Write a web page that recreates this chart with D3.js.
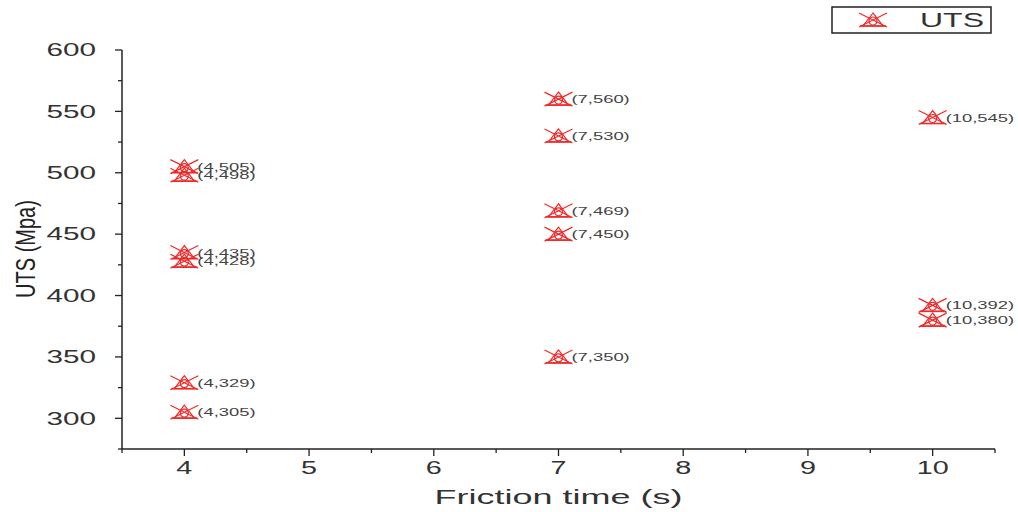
<!DOCTYPE html>
<html>
<head>
<meta charset="utf-8">
<script src="https://cdn.jsdelivr.net/npm/d3@7"></script>
<style>
  html, body { margin: 0; padding: 0; background: #fff; }
  svg { display: block; font-family: "Liberation Sans", Arial, sans-serif; }
</style>
</head>
<body>
<svg id="chart" width="1018" height="512"></svg>
<script>
// Friction time (s) and ultimate tensile strength (MPa) per weld
const frictionTime = [4, 4, 4, 4, 4, 4, 7, 7, 7, 7, 7, 10, 10, 10];
const uts = [505, 498, 435, 428, 329, 305, 560, 530, 469, 450, 350, 545, 392, 380];
const xTicks = [4, 5, 6, 7, 8, 9, 10];
const yTicks = [300, 350, 400, 450, 500, 550, 600];
const seriesName = "UTS";

const svg = d3.select("#chart");
const plotLeft = 122, plotRight = 995, plotTop = 50, plotBottom = 449;

const x = d3.scaleLinear().domain([3.5, 10.5]).range([plotLeft, plotRight]);
const y = d3.scaleLinear().domain([600, 275]).range([plotTop, plotBottom]);

const red = "#ee2a2a";
const axisColor = "#222";

// Text drawn with a wide horizontal stretch, as the figure's fonts are
function wideText(parent, px, py, str, size, sx, anchor, fill) {
  return parent.append("text")
    .attr("transform", `translate(${px},${py}) scale(${sx},1)`)
    .attr("text-anchor", anchor).attr("dy", "0.35em")
    .attr("font-size", size).attr("fill", fill).text(str);
}

// X axis
const xAxis = svg.append("g");
xAxis.append("line").attr("x1", plotLeft).attr("x2", plotRight).attr("y1", plotBottom).attr("y2", plotBottom)
  .attr("stroke", axisColor).attr("stroke-width", 1.5);
d3.range(3.5, 10.51, 0.5).forEach(v => {
  const major = Number.isInteger(v);
  xAxis.append("line").attr("x1", x(v)).attr("x2", x(v)).attr("y1", plotBottom).attr("y2", plotBottom + (major ? 7 : 4))
    .attr("stroke", axisColor).attr("stroke-width", 1.3);
});
xTicks.forEach(d => wideText(xAxis, x(d), plotBottom + 19, d, 18, 1.6, "middle", "#333"));

// Y axis
const yAxis = svg.append("g");
yAxis.append("line").attr("x1", plotLeft).attr("x2", plotLeft).attr("y1", plotTop).attr("y2", plotBottom)
  .attr("stroke", axisColor).attr("stroke-width", 1.5);
d3.range(275, 600.1, 25).forEach(v => {
  const major = v % 50 === 0;
  yAxis.append("line").attr("x1", plotLeft).attr("x2", plotLeft - (major ? 7 : 4)).attr("y1", y(v)).attr("y2", y(v))
    .attr("stroke", axisColor).attr("stroke-width", 1.3);
});
yTicks.forEach(d => wideText(yAxis, plotLeft - 26, y(d), d, 18, 1.65, "end", "#333"));

// Axis titles
wideText(svg, (plotLeft + plotRight) / 2, 497, "Friction time (s)", 20, 1.8, "middle", "#333");
svg.append("text")
  .attr("transform", `translate(26,${249}) rotate(-90) scale(1,1.35)`)
  .attr("text-anchor", "middle").attr("dy", "0.35em")
  .attr("font-size", 20).attr("fill", "#222").text("UTS (Mpa)");

// Composite marker: cross, triangle, circle and base line
function drawMarker(g) {
  g.append("path").attr("d", "M-14,-7L14,7M-14,7L14,-7").attr("stroke", red).attr("stroke-width", 1.2).attr("fill", "none");
  g.append("path").attr("d", "M0,-7L-10,6L10,6Z").attr("stroke", red).attr("stroke-width", 1.2).attr("fill", "none");
  g.append("circle").attr("cx", 0).attr("cy", 1).attr("r", 4).attr("stroke", red).attr("stroke-width", 1.2).attr("fill", "none");
  g.append("line").attr("x1", -13).attr("x2", 13).attr("y1", 6).attr("y2", 6).attr("stroke", red).attr("stroke-width", 1.6);
}

const points = frictionTime.map((t, i) => ({ t, v: uts[i] }));
const pg = svg.append("g").selectAll("g").data(points).enter().append("g")
  .attr("transform", d => `translate(${x(d.t)},${y(d.v)})`);
pg.each(function (d) {
  const g = d3.select(this);
  drawMarker(g);
  wideText(g, 13, 0, `(${d.t},${d.v})`, 11.5, 1.6, "start", "#444");
});

// Legend
const lg = svg.append("g");
lg.append("rect").attr("x", 832).attr("y", 7).attr("width", 159).attr("height", 26)
  .attr("fill", "#fff").attr("stroke", "#222").attr("stroke-width", 1.5);
drawMarker(lg.append("g").attr("transform", "translate(873,20)"));
wideText(lg, 920, 20, seriesName, 20, 1.6, "start", "#333");
</script>
</body>
</html>
